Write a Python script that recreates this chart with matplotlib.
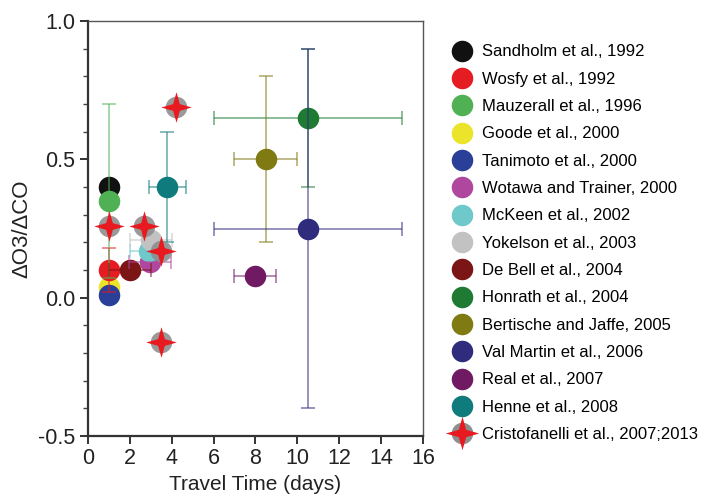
import matplotlib
matplotlib.use('Agg')
import matplotlib.pyplot as plt
from matplotlib.lines import Line2D
from matplotlib.path import Path

plt.rcParams['font.family'] = ['Liberation Sans', 'DejaVu Sans']

# studies (legend order)
names = ['Sandholm et al., 1992', 'Wosfy et al., 1992', 'Mauzerall et al., 1996',
         'Goode et al., 2000', 'Tanimoto et al., 2000', 'Wotawa and Trainer, 2000',
         'McKeen et al., 2002', 'Yokelson et al., 2003', 'De Bell et al., 2004',
         'Honrath et al., 2004', 'Bertische and Jaffe, 2005', 'Val Martin et al., 2006',
         'Real et al., 2007', 'Henne et al., 2008']
colors = ['#111111', '#e61c23', '#4fb153', '#ece42a', '#2a3f98', '#b0479f',
          '#6fc8c9', '#c2c2c2', '#7b1516', '#1f7a33', '#7f7a12', '#2f2b7d',
          '#701a63', '#0f7b7c']
travel = [1.0, 1.0, 1.0, 1.0, 1.0, 2.95, 2.9, 3.0, 2.0, 10.5, 8.5, 10.5, 8.0, 3.8]
ratio = [0.40, 0.10, 0.35, 0.04, 0.01, 0.13, 0.17, 0.21, 0.10, 0.65, 0.50, 0.25, 0.08, 0.40]
# error bars: (lower, upper)
x_lo = [0, 0, 0, 0, 0, 1.0, 0.9, 1.0, 1.0, 4.5, 1.5, 4.5, 1.0, 0.9]
x_hi = [0, 0, 0, 0, 0, 1.0, 0.9, 1.0, 1.0, 4.5, 1.5, 4.5, 1.0, 0.9]
y_lo = [0, 0.08, 0.28, 0, 0, 0, 0, 0, 0, 0.25, 0.30, 0.65, 0, 0.20]
y_hi = [0, 0.08, 0.35, 0, 0, 0, 0, 0, 0, 0.25, 0.30, 0.65, 0, 0.20]
z = [3, 4, 4, 2, 4, 3, 4, 5, 4, 3, 3, 3, 3, 3]

# Cristofanelli et al. 2007;2013
cris_name = 'Cristofanelli et al., 2007;2013'
cris_x = [1.0, 2.7, 3.5, 4.2, 3.5]
cris_y = [0.26, 0.26, 0.17, 0.69, -0.16]

# four point star marker
s = 0.22
star = Path([(0, 1), (s, s), (1, 0), (s, -s), (0, -1), (-s, -s), (-1, 0), (-s, s), (0, 1)],
            [Path.MOVETO] + [Path.LINETO] * 7 + [Path.CLOSEPOLY])

fig = plt.figure(figsize=(7.09, 5.04), dpi=100)
ax = fig.add_axes([0.124, 0.135, 0.4725, 0.823])

ms = 15.5
for i in range(len(names)):
    if x_lo[i] or y_lo[i]:
        xe = [[x_lo[i]], [x_hi[i]]] if x_lo[i] else None
        ye = [[y_lo[i]], [y_hi[i]]] if y_lo[i] else None
        ax.errorbar(travel[i], ratio[i], xerr=xe, yerr=ye, fmt='none',
                    ecolor=colors[i], alpha=0.55, elinewidth=1.3, capsize=5,
                    capthick=1.3, zorder=6)
    ax.plot(travel[i], ratio[i], 'o', ms=ms, color=colors[i], mec='none', zorder=z[i])

ax.plot(cris_x, cris_y, 'o', ms=ms, color='#8e8e8e', mec='none', zorder=7, alpha=0.9)
ax.plot(cris_x, cris_y, marker=star, ls='none', ms=22, color='#e8191f', mec='none', zorder=8)

ax.set_xlim(0, 16)
ax.set_ylim(-0.5, 1.0)
ax.set_xticks(range(0, 17, 2))
ax.set_yticks([-0.5, 0.0, 0.5, 1.0])
ax.set_yticks([v / 10 for v in range(-5, 11)], minor=True)
ax.set_yticklabels(['-0.5', '0.0', '0.5', '1.0'])
ax.tick_params(labelsize=15.5, colors='#222222', direction='out', length=6, width=1.3, pad=3)
ax.tick_params(axis='y', which='minor', length=3.5, width=1.0, color='#444444')
ax.tick_params(axis='x', which='minor', length=0)

for side in ['left', 'bottom']:
    ax.spines[side].set_linewidth(1.6)
    ax.spines[side].set_color('#333333')
for side in ['top', 'right']:
    ax.spines[side].set_linewidth(1.0)
    ax.spines[side].set_color('#555555')

ax.set_xlabel('Travel Time (days)', fontsize=15, color='#222222', labelpad=4)
ax.set_ylabel('ΔO3/ΔCO', fontsize=16, color='#222222')
ax.yaxis.set_label_coords(-0.165, 0.5)

handles = [Line2D([], [], marker='o', ls='none', ms=ms, color=c, mec='none') for c in colors]
cris_h = (Line2D([], [], marker='o', ls='none', ms=ms, color='#8e8e8e', mec='none'),
          Line2D([], [], marker=star, ls='none', ms=24, color='#e8191f', mec='none'))
handles.append(cris_h)
labels = names + [cris_name]
fig.legend(handles, labels, loc='upper left', bbox_to_anchor=(0.638, 0.912), frameon=False,
           fontsize=12, handlelength=1.2, handletextpad=0.6, labelspacing=0.74,
           borderpad=0, borderaxespad=0)

fig.savefig('out.png', dpi=100)
